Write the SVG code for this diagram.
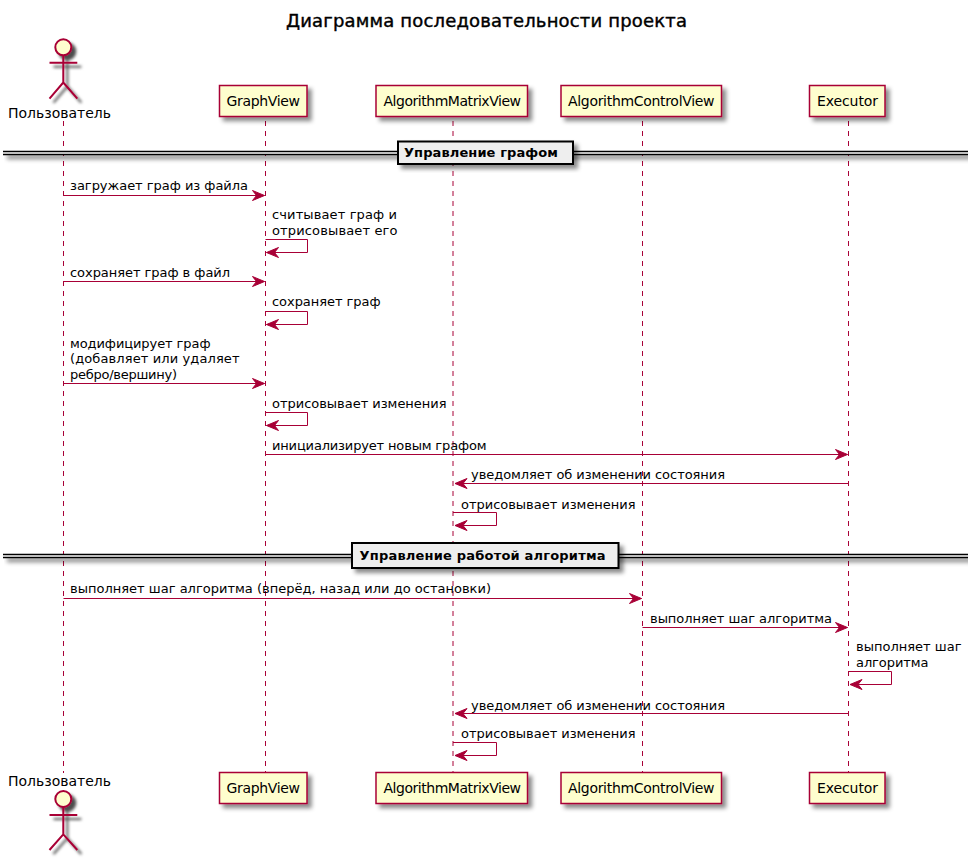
<svg xmlns="http://www.w3.org/2000/svg" width="979" height="860" viewBox="0 0 979 860">
<style>
text{font-family:"DejaVu Sans",sans-serif;fill:#000}
.m{font-size:13px}
.p{font-size:14px}
.b{font-size:13px;font-weight:bold}
.box{fill:#FEFECE;stroke:#A80036;stroke-width:1.5}
.life{stroke:#A80036;stroke-width:1;stroke-dasharray:5 5;fill:none}
.msg{stroke:#A80036;stroke-width:1;fill:none}
.actor{fill:none;stroke:#A80036;stroke-width:2}
.head{fill:#FEFECE;stroke:#A80036;stroke-width:2}
.sep{fill:#EEEEEE;stroke:#000;stroke-width:2}
.dbl{stroke:#000;stroke-width:1.3;fill:none}
.band{fill:#fff}
</style>
<defs>
<filter id="sh" x="-30%" y="-30%" width="170%" height="170%"><feGaussianBlur in="SourceAlpha" stdDeviation="2"/><feColorMatrix type="matrix" values="0 0 0 0 0 0 0 0 0 0 0 0 0 0 0 0 0 0 .45 0"/><feOffset dx="4" dy="4" result="o"/><feBlend in="SourceGraphic" in2="o" mode="normal"/></filter>
<filter id="sha" filterUnits="userSpaceOnUse" x="30" y="25" width="70" height="835"><feGaussianBlur in="SourceAlpha" stdDeviation="1.500"/><feColorMatrix type="matrix" values="0 0 0 0 0 0 0 0 0 0 0 0 0 0 0 0 0 0 .7 0"/><feOffset dx="4" dy="4" result="o"/><feBlend in="SourceGraphic" in2="o" mode="normal"/></filter>
<filter id="shw" filterUnits="userSpaceOnUse" x="0" y="0" width="968" height="860"><feGaussianBlur in="SourceAlpha" stdDeviation="2"/><feColorMatrix type="matrix" values="0 0 0 0 0 0 0 0 0 0 0 0 0 0 0 0 0 0 .45 0"/><feOffset dx="4" dy="4" result="o"/><feBlend in="SourceGraphic" in2="o" mode="normal"/></filter>
<marker id="a" markerUnits="userSpaceOnUse" markerWidth="13" markerHeight="12" refX="12" refY="5" orient="auto-start-reverse" overflow="visible"><path d="M0,0 L12,5 L0,10 L4,5 Z" fill="#A80036" stroke="#A80036"/></marker>
</defs>
<rect width="979" height="860" fill="#fff"/>
<text id="title" x="286" y="27" textLength="401" font-size="18" style="stroke:#000;stroke-width:.4">Диаграмма последовательности проекта</text>
<g id="lifelines">
<path class="life" d="M63.500,121V773M265.500,121V773M453,121V773M642.500,121V773M848.500,121V773"/>
</g>
<g id="sep1">
<g filter="url(#shw)"><rect class="band" x="3" y="151.500" width="965" height="3"/><path class="dbl" d="M3,151.500H968M3,154.500H968"/></g>
<rect class="sep" filter="url(#sh)" x="398" y="141.500" width="175" height="22.500"/>
<text class="b" x="404" y="157" textLength="154">Управление графом</text>
</g>
<g id="sep2">
<g filter="url(#shw)"><rect class="band" x="3" y="554.500" width="965" height="3"/><path class="dbl" d="M3,554.500H968M3,557.500H968"/></g>
<rect class="sep" filter="url(#sh)" x="352" y="543" width="266.500" height="25"/>
<text class="b" x="359.500" y="560" textLength="246">Управление работой алгоритма</text>
</g>
<g id="connectors">
<path class="msg" marker-end="url(#a)" d="M63.500,195.500H264.500"/>
<path class="msg" marker-end="url(#a)" d="M265.500,239.500H307.500V252.500H266.500"/>
<path class="msg" marker-end="url(#a)" d="M63.500,281.500H264.500"/>
<path class="msg" marker-end="url(#a)" d="M265.500,311.500H307.500V324.500H266.500"/>
<path class="msg" marker-end="url(#a)" d="M63.500,383.500H264.500"/>
<path class="msg" marker-end="url(#a)" d="M265.500,412.500H307.500V425.500H266.500"/>
<path class="msg" marker-end="url(#a)" d="M265.500,454.500H847.500"/>
<path class="msg" marker-end="url(#a)" d="M848.500,483.500H455"/>
<path class="msg" marker-end="url(#a)" d="M453,512.500H496.500V525.500H455"/>
<path class="msg" marker-end="url(#a)" d="M63.500,598.500H641.500"/>
<path class="msg" marker-end="url(#a)" d="M642.500,627.500H847.500"/>
<path class="msg" marker-end="url(#a)" d="M848.500,671.500H891.500V684.500H850"/>
<path class="msg" marker-end="url(#a)" d="M848.500,713.500H455"/>
<path class="msg" marker-end="url(#a)" d="M453,742.500H496.500V755.500H455"/>
</g>
<g id="labels">
<text class="m" x="70" y="190" textLength="178">загружает граф из файла</text>
<text class="m" x="272" y="219" textLength="125">считывает граф и</text>
<text class="m" x="272" y="235" textLength="125.500">отрисовывает его</text>
<text class="m" x="70" y="277" textLength="160">сохраняет граф в файл</text>
<text class="m" x="272" y="306" textLength="108.500">сохраняет граф</text>
<text class="m" x="70" y="348" textLength="140.500">модифицирует граф</text>
<text class="m" x="70" y="363" textLength="169.500">(добавляет или удаляет</text>
<text class="m" x="70" y="379" textLength="107">ребро/вершину)</text>
<text class="m" x="272" y="408" textLength="174.500">отрисовывает изменения</text>
<text class="m" x="272" y="450" textLength="214.500">инициализирует новым графом</text>
<text class="m" x="471" y="479" textLength="254">уведомляет об изменении состояния</text>
<text class="m" x="461" y="509" textLength="174.500">отрисовывает изменения</text>
<text class="m" x="70" y="593" textLength="421">выполняет шаг алгоритма (вперёд, назад или до остановки)</text>
<text class="m" x="650" y="623" textLength="182">выполняет шаг алгоритма</text>
<text class="m" x="856" y="651" textLength="105.500">выполняет шаг</text>
<text class="m" x="856" y="667" textLength="72.500">алгоритма</text>
<text class="m" x="471" y="710" textLength="254">уведомляет об изменении состояния</text>
<text class="m" x="461" y="738" textLength="174.500">отрисовывает изменения</text>
</g>
<g id="actor-top">
<g filter="url(#sha)"><circle class="head" cx="63.300" cy="47.300" r="8"/><path class="actor" d="M63.300,55.300V82.500M49.500,62.700H77.300M63.300,82.500L49.500,98.700M63.300,82.500L77.300,98.700"/></g>
<text class="p" x="8" y="118" textLength="103">Пользователь</text>
</g>
<g id="actor-bottom">
<text class="p" x="8" y="786" textLength="103">Пользователь</text>
<g filter="url(#sha)"><circle class="head" cx="63.300" cy="799" r="8"/><path class="actor" d="M63.300,807V834.300M49.500,815H77.300M63.300,834.300L49.500,850M63.300,834.300L77.300,850"/></g>
</g>
<g id="graphview-top"><rect class="box" filter="url(#sh)" x="219.500" y="85.500" width="87.500" height="31"/><text class="p" x="226.500" y="106" textLength="73.500">GraphView</text></g>
<g id="matrix-top"><rect class="box" filter="url(#sh)" x="376" y="85.500" width="151.500" height="31"/><text class="p" x="383.500" y="106" textLength="137.500">AlgorithmMatrixView</text></g>
<g id="control-top"><rect class="box" filter="url(#sh)" x="561" y="85.500" width="160.500" height="31"/><text class="p" x="568" y="106" textLength="146.500">AlgorithmControlView</text></g>
<g id="executor-top"><rect class="box" filter="url(#sh)" x="809.500" y="85.500" width="75.500" height="31"/><text class="p" x="817" y="106" textLength="61">Executor</text></g>
<g id="graphview-bottom"><rect class="box" filter="url(#sh)" x="219.500" y="772.500" width="87.500" height="31"/><text class="p" x="226.500" y="793" textLength="73.500">GraphView</text></g>
<g id="matrix-bottom"><rect class="box" filter="url(#sh)" x="376" y="772.500" width="151.500" height="31"/><text class="p" x="383.500" y="793" textLength="137.500">AlgorithmMatrixView</text></g>
<g id="control-bottom"><rect class="box" filter="url(#sh)" x="561" y="772.500" width="160.500" height="31"/><text class="p" x="568" y="793" textLength="146.500">AlgorithmControlView</text></g>
<g id="executor-bottom"><rect class="box" filter="url(#sh)" x="809.500" y="772.500" width="75.500" height="31"/><text class="p" x="817" y="793" textLength="61">Executor</text></g>
</svg>
